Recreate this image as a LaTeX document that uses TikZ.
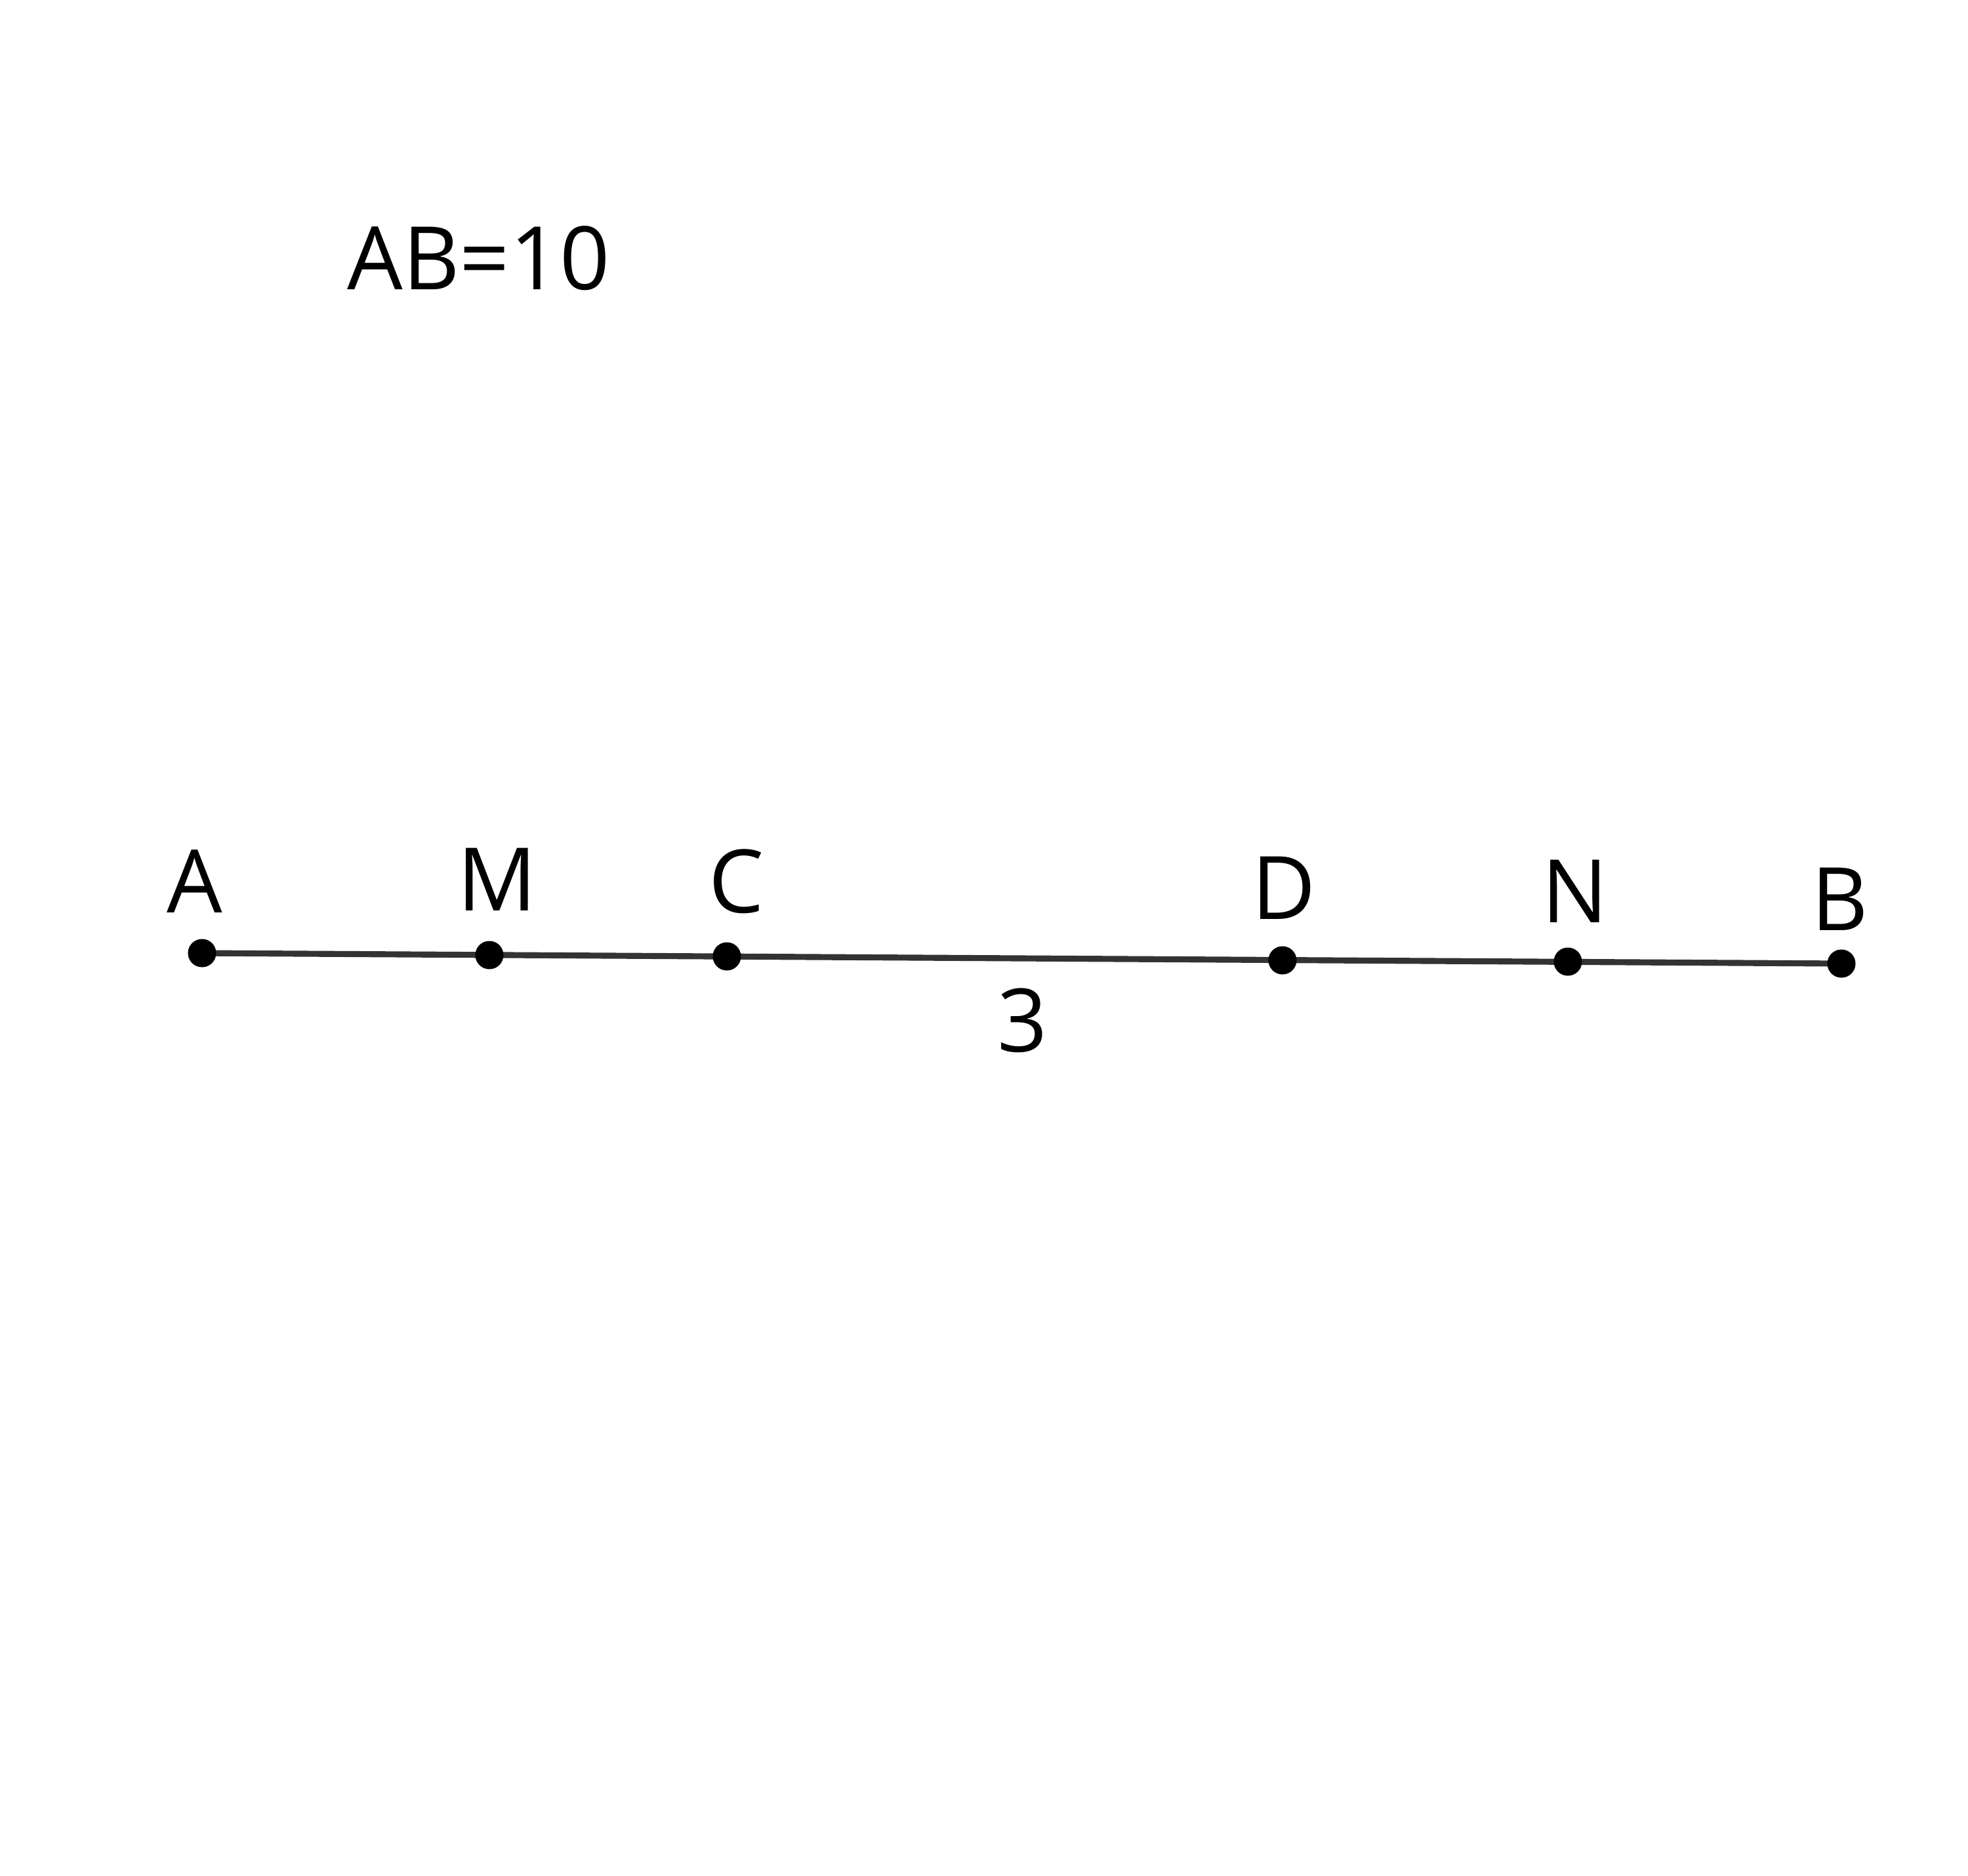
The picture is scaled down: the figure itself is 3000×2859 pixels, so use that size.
\documentclass[tikz,border=0pt]{standalone}
\usepackage{fontspec}
\setmainfont{Open Sans}
\begin{document}
\begin{tikzpicture}[x=0.01cm,y=-0.01cm,
  dot/.style={circle,fill=black,inner sep=0pt,minimum size=0.43cm},
  lbl/.style={font=\fontsize{38}{44}\selectfont,anchor=base,inner sep=0pt},
  seg/.style={line width=2.6pt,draw=black!80}]
\useasboundingbox (0,0) rectangle (3000,2859);
\coordinate (A) at (308,1453);
\coordinate (M) at (746,1456);
\coordinate (C) at (1108,1458);
\coordinate (D) at (1955,1464);
\coordinate (N) at (2390,1466);
\coordinate (B) at (2807,1469);
\draw[seg] (A) -- (B);
\foreach \p in {A,M,C,D,N,B} \node[dot] (d\p) at (\p) {};
\node[lbl] (lA) at (297,1391) {A};
\node[lbl] (lM) at (758,1388) {M};
\node[lbl] (lC) at (1123,1391) {C};
\node[lbl] (lD) at (1957,1401) {D};
\node[lbl] (lN) at (2401,1406) {N};
\node[lbl] (lB) at (2805,1418) {B};
\node[lbl] (l3) at (1559,1603) {3};
\node[lbl,anchor=base west] (title) at (529,441) {AB=10};
\end{tikzpicture}
\end{document}
